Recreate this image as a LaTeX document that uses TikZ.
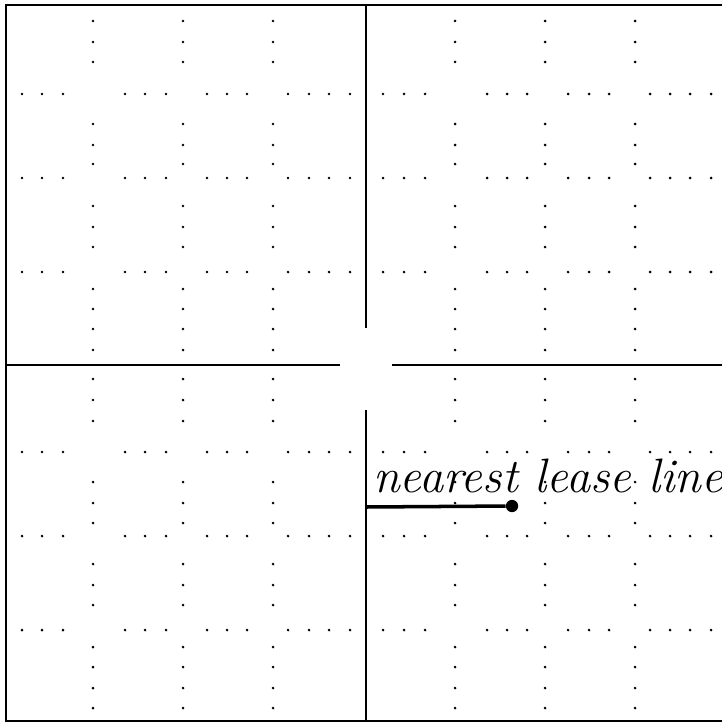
\documentclass[tikz,border=0pt]{standalone}
\usepackage{tikz}

\begin{document}
\begin{tikzpicture}
 [x=0.02cm, y=-0.02cm,
  frame line/.style={line width=0.8pt, black},
  grid dot/.style={fill=black},
  lease line/.style={line width=2pt, black},
  lease end/.style={circle, fill=black, inner sep=0pt, minimum size=7pt},
  lease text/.style={font=\itshape\fontsize{27.5}{32}\selectfont, inner sep=0pt}]

\useasboundingbox (0,0) rectangle (722,723);

% outer frame (open on the right)
\draw[frame line] (722,5) -- (6,5) -- (6,721) -- (722,721);

% dividers, broken at the centre
\draw[frame line] (6,365) -- (340,365);
\draw[frame line] (392,365) -- (722,365);
\draw[frame line] (366,5) -- (366,328);
\draw[frame line] (366,410) -- (366,721);

% dotted rows
\foreach \y in {94,178,272,452,536,630}
  \foreach \x in {22,42,63,125,145,166,207,227,247,288,309,329,350,
                  383,404,425,487,507,527,568,589,609,650,670,690,711}
    \fill[grid dot] (\x,\y) circle (0.85pt);

% dotted columns
\foreach \x in {93,183,273,455,545,635}
  \foreach \y in {21,42,62,124,145,164,206,227,247,289,309,329,350,
                  379,400,421,482,503,523,564,585,605,647,667,688,708}
    \fill[grid dot] (\x,\y) circle (0.85pt);

% label and marker
\node[lease text, anchor=base west] (label) at (373,492) {nearest lease line};
\coordinate (start) at (366,507);
\node[lease end] (end) at (512,506) {};
\draw[lease line] (start) -- (end);

\end{tikzpicture}
\end{document}
